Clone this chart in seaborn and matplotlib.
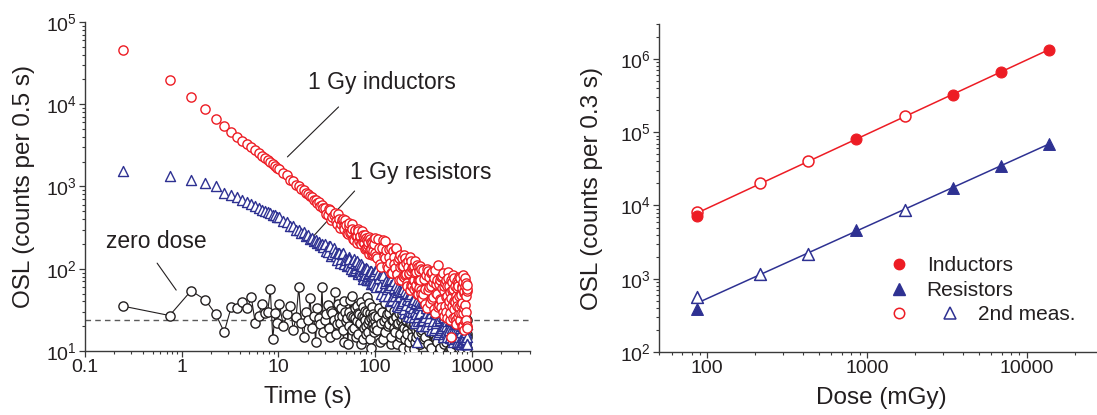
import numpy as np
import matplotlib
matplotlib.use("Agg")
import matplotlib.pyplot as plt
import seaborn as sns
from matplotlib.lines import Line2D
from matplotlib.ticker import LogLocator, NullFormatter, FixedLocator, FixedFormatter

# ---------------------------------------------------------------- data
# OSL decay curves, 0.5 s channels (channel centre times, thinned at long times)
time_s = [
    0.25, 0.75, 1.25, 1.75, 2.25, 2.75, 3.25, 3.75, 4.25, 4.75,
    5.25, 5.75, 6.25, 6.75, 7.25, 7.75, 8.25, 8.75, 9.25, 9.75,
    10.25, 11.25, 12.25, 13.25, 14.25, 15.25, 16.25, 17.25, 18.25, 19.25,
    20.25, 21.25, 22.25, 23.25, 24.25, 25.25, 26.25, 27.25, 28.25, 29.25,
    30.25, 32.25, 34.25, 36.25, 38.25, 40.25, 42.25, 44.25, 46.25, 48.25,
    50.25, 52.25, 54.25, 56.25, 58.25, 60.25, 62.25, 64.25, 66.25, 68.25,
    70.25, 72.25, 74.25, 76.25, 78.25, 80.25, 82.25, 84.25, 86.25, 88.25,
    90.25, 92.25, 94.25, 96.25, 98.25,
    100.25, 105.25, 110.25, 115.25, 120.25, 125.25, 130.25, 135.25, 140.25, 145.25,
    150.25, 155.25, 160.25, 165.25, 170.25, 175.25, 180.25, 185.25, 190.25, 195.25,
    200.25, 205.25, 210.25, 215.25, 220.25, 225.25, 230.25, 235.25, 240.25, 245.25,
    250.25, 255.25, 260.25, 265.25, 270.25, 275.25, 280.25, 285.25, 290.25, 295.25,
    300.25, 310.25, 320.25, 330.25, 340.25, 350.25, 360.25, 370.25, 380.25, 390.25,
    400.25, 410.25, 420.25, 430.25, 440.25, 450.25, 460.25, 470.25, 480.25, 490.25,
    500.25, 510.25, 520.25, 530.25, 540.25, 550.25, 560.25, 570.25, 580.25, 590.25,
    600.25, 610.25, 620.25, 630.25, 640.25, 650.25, 660.25, 670.25, 680.25, 690.25,
    700.25, 710.25, 720.25, 730.25, 740.25, 750.25, 760.25, 770.25, 780.25, 790.25,
    800.25, 810.25, 820.25, 830.25, 840.25, 850.25, 860.25, 870.25, 880.25, 890.25,
    895.25, 899.75,
]

inductors_1gy = [
    45600, 19800, 12300, 8800, 6600, 5500, 4550, 3970, 3600, 3250,
    2980, 2760, 2530, 2380, 2230, 2090, 1980, 1870, 1770, 1690,
    1620, 1440, 1370, 1210, 1180, 1050, 1010, 930, 910, 830,
    820, 760, 745, 690, 680, 630, 640, 585, 590, 545,
    550, 455, 512, 420, 470, 352, 405, 354, 402, 303,
    337, 266, 356, 277, 306, 225, 298, 250, 306, 220,
    250, 200, 258, 206, 259, 177, 222, 192, 246, 170,
    209, 149, 191, 165, 202,
    234, 135, 179, 106, 225, 137, 170, 101, 139, 178,
    90, 140, 103, 177, 86, 137, 105, 73, 134, 108,
    80, 137, 86, 61, 106, 90, 138, 64, 102, 74,
    109, 57, 88, 64, 112, 72, 50, 93, 74, 55,
    99, 49, 75, 37, 99, 55, 80, 38, 62, 92,
    45, 77, 29, 66, 50, 111, 36, 73, 42, 82,
    30, 54, 61, 35, 73, 47, 25, 77, 41, 52,
    29, 15, 69, 35, 56, 40, 77, 26, 46, 21,
    58, 35, 67, 29, 47, 23, 78, 36, 48, 20,
    58, 84, 29, 51, 18, 62, 36, 68, 24, 53,
    19, 63,
]

resistors_1gy = [
    1550, 1350, 1200, 1100, 1000, 840, 785, 750, 690, 650,
    605, 575, 550, 525, 505, 490, 470, 455, 445, 430,
    425, 380, 375, 335, 330, 298, 300, 272, 276, 250,
    255, 232, 238, 218, 223, 204, 210, 193, 199, 185,
    200, 158, 188, 151, 162, 127, 157, 131, 154, 114,
    129, 112, 133, 99, 122, 132, 96, 110, 90, 113,
    91, 113, 81, 93, 100, 75, 99, 82, 90, 73,
    94, 73, 82, 67, 86,
    95, 100, 77, 50, 85, 60, 70, 47, 60, 76,
    42, 59, 46, 64, 35, 55, 46, 36, 54, 40,
    32, 53, 36, 43, 27, 46, 35, 50, 30, 39,
    26, 43, 31, 38, 13, 34, 26, 40, 29, 23,
    36, 24, 39, 20, 29, 39, 23, 29, 18, 32,
    23, 33, 19, 28, 23, 33, 17, 25, 19, 30,
    15, 26, 20, 30, 17, 23, 15, 27, 18, 24,
    15, 27, 19, 14, 24, 17, 28, 14, 21, 17,
    24, 13, 22, 15, 25, 12, 19, 17, 22, 13,
    20, 15, 23, 12, 20, 14, 24, 12, 17, 15,
    21, 12,
]

zero_dose = [
    35, 27, 54, 42, 28, 17, 34, 33, 39, 33,
    45, 22, 27, 37, 29, 30, 56, 14, 29, 22,
    37, 20, 28, 35, 18, 26, 60, 22, 15, 30,
    24, 44, 19, 27, 13, 33, 25, 21, 60, 17,
    24, 36, 15, 29, 52, 21, 26, 33, 18, 41,
    23, 12, 30, 27, 47, 19, 25, 35, 16, 28,
    22, 39, 14, 26, 31, 20, 45, 17, 24, 29,
    11, 34, 21, 26, 19,
    27, 18, 33, 22, 14, 38, 25, 20, 29, 12,
    24, 31, 17, 26, 21, 35, 15, 23, 28, 11,
    19, 30, 24, 16, 27, 13, 22, 33, 18, 25,
    10.5, 21, 28, 15, 24, 19, 31, 12, 23, 17,
    22, 29, 14, 25, 19, 33, 17, 24, 11, 27,
    21, 16, 30, 20, 13, 26, 23, 18, 35, 15,
    22, 28, 12, 19, 25, 17, 31, 21, 14, 24,
    20, 11, 27, 18, 23, 16, 29, 13, 22, 19,
    26, 15, 21, 33, 12, 24, 18, 28, 16, 20,
    10.5, 25, 19, 14, 23, 17, 27, 12, 21, 16,
    24, 11,
]

# further channels in between the ones above (dense part of the record)
time_s_fill = [
    31.25, 33.25, 35.25, 37.25, 39.25, 41.25, 43.25, 45.25, 47.25, 49.25,
    51.25, 53.25, 55.25, 57.25, 59.25, 61.25, 63.25, 65.25, 67.25, 69.25,
    71.25, 73.25, 75.25, 77.25, 79.25, 81.25, 83.25, 85.25, 87.25, 89.25,
    91.25, 93.25, 95.25, 97.25, 99.25,
    102.75, 107.75, 112.75, 117.75, 122.75, 127.75, 132.75, 137.75, 142.75, 147.75,
    152.75, 157.75, 162.75, 167.75, 172.75, 177.75, 182.75, 187.75, 192.75, 197.75,
    202.75, 207.75, 212.75, 217.75, 222.75, 227.75, 232.75, 237.75, 242.75, 247.75,
    252.75, 257.75, 262.75, 267.75, 272.75, 277.75, 282.75, 287.75, 292.75, 297.75,
    305.25, 315.25, 325.25, 335.25, 345.25, 355.25, 365.25, 375.25, 385.25, 395.25,
    405.25, 415.25, 425.25, 435.25, 445.25, 455.25, 465.25, 475.25, 485.25, 495.25,
    505.25, 515.25, 525.25, 535.25, 545.25, 555.25, 565.25, 575.25, 585.25, 595.25,
    605.25, 615.25, 625.25, 635.25, 645.25, 655.25, 665.25, 675.25, 685.25, 695.25,
    705.25, 715.25, 725.25, 735.25, 745.25, 755.25, 765.25, 775.25, 785.25, 795.25,
    805.25, 815.25, 825.25, 835.25, 845.25, 855.25, 865.25, 875.25, 885.25, 897.75,
]

inductors_1gy_fill = [
    459, 538, 394, 456, 381, 461, 313, 393, 329, 396,
    273, 332, 273, 350, 231, 284, 249, 203, 284, 246,
    207, 286, 211, 240, 175, 237, 184, 209, 152, 229,
    175, 206, 153, 227, 157,
    144, 233, 114, 181, 143, 219, 108, 173, 118, 88,
    164, 113, 173, 86, 124, 73, 146, 108, 81, 149,
    85, 116, 67, 123, 87, 55, 125, 93, 61, 105,
    74, 124, 60, 92, 49, 104, 74, 58, 108, 50,
    44, 97, 57, 83, 33, 94, 60, 88, 43, 69,
    32, 97, 51, 73, 34, 66, 43, 80, 34, 58,
    90, 27, 68, 45, 30, 61, 92, 36, 62, 24,
    74, 44, 55, 25, 83, 32, 62, 39, 24, 71,
    43, 26, 61, 34, 79, 24, 51, 29, 62, 38,
    20, 69, 33, 53, 23, 77, 30, 46, 20, 56,
]

resistors_1gy_fill = [
    166, 189, 144, 179, 143, 157, 119, 152, 118, 132,
    108, 139, 109, 121, 93, 119, 102, 123, 87, 102,
    87, 108, 76, 99, 85, 102, 74, 87, 74, 93,
    65, 85, 73, 89, 64,
    60, 86, 62, 87, 47, 68, 57, 74, 40, 63,
    47, 71, 39, 52, 60, 34, 52, 38, 57, 29,
    50, 37, 51, 30, 42, 31, 53, 26, 41, 33,
    43, 22, 37, 28, 42, 23, 33, 28, 37, 20,
    23, 38, 26, 33, 20, 38, 25, 29, 21, 35,
    18, 30, 22, 28, 16, 30, 24, 18, 30, 19,
    27, 16, 30, 20, 24, 16, 27, 18, 30, 14.5,
    24, 16, 26, 18, 13, 24, 21, 15, 26, 14,
    22, 16, 24, 13, 21, 17, 26, 12, 22, 15,
    23, 13, 19, 15, 23, 12, 20, 14, 21, 12,
]

zero_dose_fill = [
    28, 19, 31, 24, 16, 37, 22, 27, 13, 30,
    25, 20, 42, 18, 26, 33, 15, 23, 29, 21,
    12, 27, 34, 19, 24, 16, 30, 22, 38, 14,
    25, 20, 28, 17, 23,
    20, 26, 13, 30, 23, 17, 28, 21, 34, 15,
    24, 19, 27, 12, 22, 29, 16, 25, 20, 32,
    14, 23, 18, 26, 11, 24, 21, 29, 15, 20,
    27, 13, 23, 18, 30, 16, 22, 25, 12, 20,
    18, 24, 15, 28, 21, 12, 26, 19, 23, 16,
    31, 20, 14, 25, 18, 22, 11, 27, 19, 24,
    15, 21, 29, 13, 23, 18, 26, 16, 20, 10.5,
    24, 19, 28, 14, 22, 17, 25, 12, 21, 18,
    27, 15, 23, 19, 11, 24, 20, 16, 26, 13,
    22, 18, 29, 14, 21, 17, 24, 12, 19, 15,
]

background_level = 23.5

# Dose response (first and second measurement)
ind_dose = [86, 860, 3440, 6880, 13760]
ind_osl = [7200, 82000, 326000, 665000, 1310000]
ind_dose_2nd = [86, 215, 430, 1720]
ind_osl_2nd = [8100, 20400, 41000, 165000]
res_dose = [86, 860, 3440, 6880, 13760]
res_osl = [390, 4600, 17400, 35000, 70000]
res_dose_2nd = [86, 215, 430, 1720]
res_osl_2nd = [560, 1150, 2150, 8700]

time_ticks = [0.1, 1, 10, 100, 1000]
time_tick_labels = ["0.1", "1", "10", "100", "1000"]
dose_ticks = [100, 1000, 10000]
dose_tick_labels = ["100", "1000", "10000"]

assert len(time_s) == len(inductors_1gy) == len(resistors_1gy) == len(zero_dose)
assert len(time_s_fill) == len(inductors_1gy_fill) == len(resistors_1gy_fill) == len(zero_dose_fill)

# merge both channel sets into one time-ordered record
t_all = np.array(time_s + time_s_fill)
order = np.argsort(t_all)
t_all = t_all[order]
ind_all = np.array(inductors_1gy + inductors_1gy_fill)[order]
res_all = np.array(resistors_1gy + resistors_1gy_fill)[order]
zero_all = np.array(zero_dose + zero_dose_fill)[order]

# ---------------------------------------------------------------- style
RED = "#ED1C24"
BLUE = "#2E3192"
INK = "#231F20"
AXIS = "#3A3A3A"

sns.set_theme(style="ticks")
plt.rcParams["font.family"] = ["Liberation Sans", "DejaVu Sans"]
plt.rcParams["mathtext.fontset"] = "custom"
plt.rcParams["mathtext.rm"] = "Liberation Sans"
plt.rcParams["mathtext.it"] = "Liberation Sans:italic"
plt.rcParams["mathtext.bf"] = "Liberation Sans:bold"

fig = plt.figure(figsize=(10.97, 4.15), dpi=100)
W, H = 1097, 415
axL = fig.add_axes([85 / W, (H - 351) / H, 445 / W, 329 / H])
axR = fig.add_axes([659 / W, (H - 352) / H, 444 / W, 328 / H])


def style_axis(ax):
    sns.despine(ax=ax)
    for side in ("left", "bottom"):
        ax.spines[side].set_color(AXIS)
        ax.spines[side].set_linewidth(1.0)
    ax.tick_params(which="major", direction="out", length=4, width=0.9,
                   color=AXIS, labelsize=14, labelcolor=INK, pad=2)
    ax.tick_params(which="minor", direction="out", length=2.5, width=0.8,
                   color=AXIS)
    ax.yaxis.set_major_locator(LogLocator(base=10, numticks=12))
    ax.yaxis.set_minor_locator(LogLocator(base=10, subs=np.arange(2, 10), numticks=12))
    ax.yaxis.set_minor_formatter(NullFormatter())
    ax.xaxis.set_minor_locator(LogLocator(base=10, subs=np.arange(2, 10), numticks=12))
    ax.xaxis.set_minor_formatter(NullFormatter())


# ---------------------------------------------------------------- left: decay curves
axL.set_xscale("log")
axL.set_yscale("log")

axL.axhline(background_level, color="#5A5A5A", lw=1.0, ls=(0, (4, 3)), zorder=1)
sns.lineplot(x=t_all, y=zero_all, sort=False, estimator=None, color=INK,
             lw=0.8, ax=axL, zorder=2)
sns.scatterplot(x=t_all, y=zero_all, marker="o", s=44, color="white",
                edgecolor=INK, linewidth=1.0, ax=axL, zorder=3)
sns.scatterplot(x=t_all, y=res_all, marker="^", s=52, color="white",
                edgecolor=BLUE, linewidth=1.0, ax=axL, zorder=4)
sns.scatterplot(x=t_all, y=ind_all, marker="o", s=44, color="white",
                edgecolor=RED, linewidth=1.0, ax=axL, zorder=5)

axL.set_xlim(0.1, 4000)
axL.set_ylim(10, 1e5)
style_axis(axL)
axL.xaxis.set_major_locator(FixedLocator(time_ticks))
axL.xaxis.set_major_formatter(FixedFormatter(time_tick_labels))
axL.set_xlabel("Time (s)", fontsize=17.5, color=INK, labelpad=7)
axL.set_ylabel("OSL (counts per 0.5 s)", fontsize=17.5, color=INK, labelpad=8)

label_kw = dict(fontsize=16.5, color=INK, ha="left", va="center")
line_kw = dict(arrowprops=dict(arrowstyle="-", color=INK, lw=0.8,
                               shrinkA=0, shrinkB=0))
axL.text(20.0, 18600, "1 Gy inductors", **label_kw)
axL.annotate("", xy=(12.4, 2290), xytext=(41.9, 9270), **line_kw)
axL.text(54.5, 1500, "1 Gy resistors", **label_kw)
axL.annotate("", xy=(23.1, 250), xytext=(61.4, 881), **line_kw)
axL.text(0.165, 217, "zero dose", **label_kw)
axL.annotate("", xy=(0.877, 55), xytext=(0.557, 117), **line_kw)

# ---------------------------------------------------------------- right: dose response
axR.set_xscale("log")
axR.set_yscale("log")

for dose_a, osl_a, dose_b, osl_b, col in (
    (ind_dose, ind_osl, ind_dose_2nd, ind_osl_2nd, RED),
    (res_dose, res_osl, res_dose_2nd, res_osl_2nd, BLUE),
):
    all_d = np.log10(np.array(dose_a + dose_b, dtype=float))
    all_v = np.log10(np.array(osl_a + osl_b, dtype=float))
    slope, icpt = np.polyfit(all_d, all_v, 1)
    fit_d = np.array([min(dose_a + dose_b), max(dose_a + dose_b)], dtype=float)
    fit_v = 10 ** (icpt + slope * np.log10(fit_d))
    sns.lineplot(x=fit_d, y=fit_v, color=col, lw=1.1, ax=axR, zorder=2)

sns.scatterplot(x=ind_dose, y=ind_osl, marker="o", s=62, color=RED,
                edgecolor=RED, linewidth=0.8, ax=axR, zorder=4)
sns.scatterplot(x=ind_dose_2nd, y=ind_osl_2nd, marker="o", s=62, color="white",
                edgecolor=RED, linewidth=1.1, ax=axR, zorder=3)
sns.scatterplot(x=res_dose, y=res_osl, marker="^", s=72, color=BLUE,
                edgecolor=BLUE, linewidth=0.8, ax=axR, zorder=4)
sns.scatterplot(x=res_dose_2nd, y=res_osl_2nd, marker="^", s=72, color="white",
                edgecolor=BLUE, linewidth=1.1, ax=axR, zorder=3)

axR.set_xlim(50, 30000)
axR.set_ylim(100, 3e6)
style_axis(axR)
axR.xaxis.set_major_locator(FixedLocator(dose_ticks))
axR.xaxis.set_major_formatter(FixedFormatter(dose_tick_labels))
axR.set_xlabel("Dose (mGy)", fontsize=17.5, color=INK, labelpad=7)
axR.set_ylabel("OSL (counts per 0.3 s)", fontsize=17.5, color=INK, labelpad=12)

# legend: filled symbols, then the open "2nd meas." pair on one row
leg_kw = dict(frameon=False, fontsize=15, handlelength=1.0, handletextpad=0.85,
              borderpad=0, labelspacing=0.27, borderaxespad=0, loc="upper left",
              labelcolor=INK)
hA = [
    Line2D([], [], ls="none", marker="o", ms=7.5, color=RED),
    Line2D([], [], ls="none", marker="^", ms=8.5, color=BLUE),
    Line2D([], [], ls="none", marker="o", ms=7.5, mfc="white", mec=RED, mew=1.1),
]
legA = axR.legend(hA, ["Inductors", "Resistors", " "], bbox_to_anchor=(0.516, 0.292),
                  **leg_kw)
axR.add_artist(legA)
hB = [Line2D([], [], ls="none", marker="^", ms=8.5, mfc="white", mec=BLUE, mew=1.1)]
axR.legend(hB, ["2nd meas."], bbox_to_anchor=(0.632, 0.142), **leg_kw)

fig.savefig("out.png", dpi=100)
